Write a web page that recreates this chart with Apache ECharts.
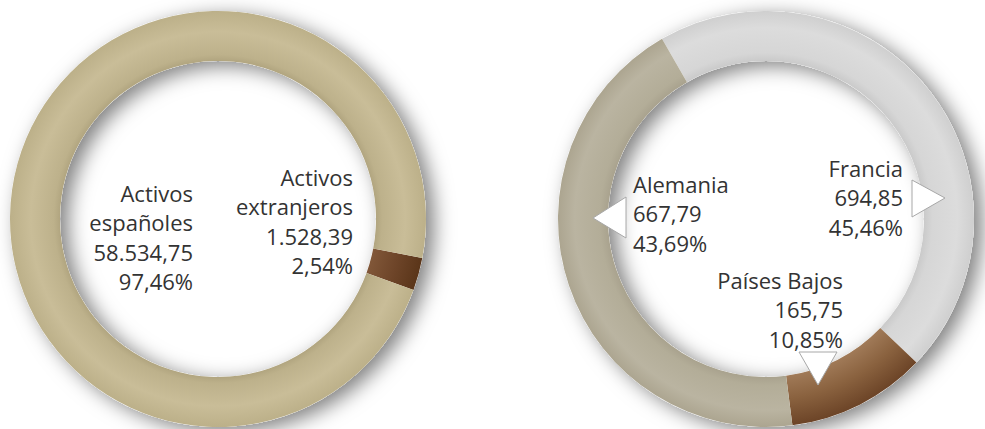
<!DOCTYPE html>
<html>
<head>
<meta charset="utf-8">
<script src="https://cdn.jsdelivr.net/npm/echarts@6/dist/echarts.min.js"></script>
<style>
html,body{margin:0;padding:0;background:#fff;}
#chart{width:985px;height:429px;}
</style>
</head>
<body>
<div id="chart"></div>
<script>
// ---- data ----
const leftNames = ['Activos extranjeros', 'Activos españoles'];
const leftLabels = ['Activos\nextranjeros', 'Activos\nespañoles'];
const leftValues = [1528.39, 58534.75];
const leftPercents = ['2,54%', '97,46%'];

const rightNames = ['Francia', 'Países Bajos', 'Alemania'];
const rightLabels = ['Francia', 'Países Bajos', 'Alemania'];
const rightValues = [694.85, 165.75, 667.79];
const rightPercents = ['45,46%', '10,85%', '43,69%'];

// ---- layout / style ----
const LC = [218, 219], RC = [766, 219];
const RIN = 158, ROUT = 208;
const FONT = "'Open Sans', 'Noto Sans', sans-serif";

function fmt(v) {
  const parts = v.toFixed(2).split('.');
  parts[0] = parts[0].replace(/\B(?=(\d{3})+(?!\d))/g, '.');
  return parts[0] + ',' + parts[1];
}
function rad(c, stops) {
  return {
    type: 'radial', x: c[0], y: c[1], r: ROUT, global: true,
    colorStops: stops.map(s => ({ offset: s[0], color: s[1] }))
  };
}
const leftColors = [
  rad(LC, [[0.74, '#845a3b'], [0.88, '#6e4529'], [1, '#5a3519']]),
  rad(LC, [[0.74, '#a99d78'], [0.79, '#bdb18b'], [0.9, '#c9bd98'], [1, '#bcb089']])
];
const rightColors = [
  rad(RC, [[0.74, '#c4c4c4'], [0.8, '#d6d6d6'], [0.92, '#dcdcdc'], [1, '#cfcfcf']]),
  rad(RC, [[0.74, '#a47e5c'], [0.87, '#8a623f'], [1, '#6c4427']]),
  rad(RC, [[0.74, '#a49d89'], [0.8, '#b3ad98'], [0.92, '#bab4a1'], [1, '#aca590']])
];

// label anchor offsets relative to donut centre
const leftLabelPos = [
  { dx: 135, dy: 2, align: 'right' },
  { dx: -25, dy: 18, align: 'right' }
];
const rightLabelPos = [
  { dx: 137, dy: -22, align: 'right' },
  { dx: 77, dy: 90, align: 'right' },
  { dx: -133, dy: -6, align: 'left' }
];

function build(names, labels, values, percents, colors, c, startAngle, pos) {
  return {
    type: 'pie',
    center: c,
    radius: [RIN, ROUT],
    startAngle: startAngle,
    clockwise: true,
    avoidLabelOverlap: false,
    silent: true,
    z: 3,
    data: names.map((n, i) => ({
      name: n, value: values[i],
      itemStyle: { color: colors[i] },
      label: { formatter: labels[i] + '\n' + fmt(values[i]) + '\n' + percents[i] }
    })),
    label: {
      show: true,
      position: 'inside',
      color: '#333333',
      fontFamily: FONT,
      fontSize: 22,
      lineHeight: 29.5
    },
    labelLine: { show: false },
    labelLayout: function (p) {
      const q = pos[p.dataIndex];
      return { x: c[0] + q.dx, y: c[1] + q.dy, align: q.align, verticalAlign: 'middle' };
    }
  };
}
function shadowRing(c, total) {
  return {
    type: 'pie', center: c, radius: [RIN, ROUT], silent: true, z: 1,
    label: { show: false }, labelLine: { show: false },
    data: [{ value: total, itemStyle: {
      color: '#ffffff', shadowBlur: 20, shadowColor: 'rgba(0,0,0,0.5)',
      shadowOffsetX: 8, shadowOffsetY: 5 } }]
  };
}
const sum = a => a.reduce((s, v) => s + v, 0);

function tri(points) {
  return {
    type: 'polygon', z: 100, silent: true,
    shape: { points: points },
    style: { fill: '#ffffff', stroke: '#a8a8a8', lineWidth: 1 }
  };
}

const chart = echarts.init(document.getElementById('chart'), null, { renderer: 'svg' });
chart.setOption({
  animation: false,
  backgroundColor: '#ffffff',
  series: [
    shadowRing(LC, sum(leftValues)),
    shadowRing(RC, sum(rightValues)),
    build(leftNames, leftLabels, leftValues, leftPercents, leftColors, LC, -10.8, leftLabelPos),
    build(rightNames, rightLabels, rightValues, rightPercents, rightColors, RC, 120, rightLabelPos)
  ],
  graphic: [
    tri([[RC[0] + 179, RC[1] - 21], [RC[0] + 146, RC[1] - 39], [RC[0] + 146, RC[1] - 2]]),
    tri([[RC[0] - 173, RC[1] - 1], [RC[0] - 140, RC[1] - 22], [RC[0] - 140, RC[1] + 19]]),
    tri([[RC[0] + 52, RC[1] + 166], [RC[0] + 33, RC[1] + 133], [RC[0] + 71, RC[1] + 133]])
  ]
});
</script>
</body>
</html>
